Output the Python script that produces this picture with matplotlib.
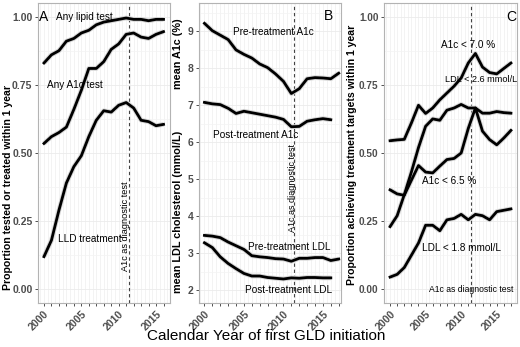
import numpy as np
import matplotlib
matplotlib.use("Agg")
import matplotlib.pyplot as plt

plt.rcParams.update({"font.family": ["Liberation Sans", "DejaVu Sans"]})

# ---- data ----
yrs16 = np.arange(2000, 2017)
yrs17 = np.arange(2000, 2018)

# panel A: proportion tested / treated within 1 year
any_lipid = [0.83, 0.86, 0.875, 0.91, 0.92, 0.94, 0.95, 0.97, 0.98, 0.985, 0.99,
             0.995, 0.99, 0.99, 0.985, 0.99, 0.99]
any_a1c = [0.535, 0.56, 0.575, 0.595, 0.66, 0.73, 0.81, 0.81, 0.835, 0.88, 0.90,
           0.935, 0.94, 0.925, 0.92, 0.935, 0.945]
lld_treat = [0.12, 0.18, 0.29, 0.39, 0.45, 0.49, 0.56, 0.62, 0.655, 0.65, 0.675,
             0.685, 0.665, 0.62, 0.615, 0.60, 0.605]

# panel B: mean A1c / LDL
pre_a1c = [9.22, 9.02, 8.9, 8.78, 8.5, 8.38, 8.28, 8.12, 8.02, 7.85, 7.65,
           7.32, 7.45, 7.72, 7.75, 7.74, 7.72, 7.87]
post_a1c = [7.08, 7.04, 7.02, 6.92, 6.78, 6.84, 6.8, 6.76, 6.72, 6.68, 6.62,
            6.42, 6.43, 6.57, 6.61, 6.64, 6.61]
pre_ldl = [3.48, 3.46, 3.42, 3.3, 3.2, 3.1, 2.93, 2.9, 2.88, 2.85, 2.84,
           2.78, 2.86, 2.86, 2.88, 2.88, 2.8, 2.84]
post_ldl = [3.28, 3.15, 2.9, 2.72, 2.58, 2.45, 2.38, 2.38, 2.34, 2.32, 2.3,
            2.33, 2.32, 2.34, 2.34, 2.33, 2.33]

# panel C: proportion achieving targets
a1c_70 = [0.545, 0.548, 0.55, 0.61, 0.675, 0.645, 0.665, 0.695, 0.72, 0.745, 0.775,
          0.83, 0.865, 0.815, 0.795, 0.79, 0.81, 0.83]
ldl_26 = [0.23, 0.27, 0.347, 0.43, 0.52, 0.598, 0.625, 0.62, 0.657, 0.665, 0.678,
          0.665, 0.665, 0.646, 0.646, 0.652, 0.648, 0.646]
a1c_65 = [0.365, 0.35, 0.345, 0.40, 0.454, 0.43, 0.427, 0.452, 0.476, 0.48, 0.5,
          0.59, 0.665, 0.58, 0.549, 0.53, 0.555, 0.583]
ldl_18 = [0.045, 0.055, 0.08, 0.125, 0.17, 0.235, 0.235, 0.215, 0.255, 0.26, 0.275,
          0.255, 0.275, 0.27, 0.255, 0.285, 0.29, 0.295]

DIAG_YEAR = 2011.4
TICK_COL = "#4D4D4D"

fig = plt.figure(figsize=(5.2, 3.47), dpi=100)
axA = fig.add_axes([38/520, 1-303/347, 131.5/520, 300/347])
axB = fig.add_axes([199.3/520, 1-303/347, 141.4/520, 300/347])
axC = fig.add_axes([384/520, 1-303/347, 133/520, 300/347])


def style(ax, xlim, ylim, yticks, yfmt, yminor, fs):
    ax.set_xlim(*xlim); ax.set_ylim(*ylim)
    for x in np.arange(1999.5, 2018.0, 0.5):
        ax.axvline(x, color="#EEEEEE", lw=0.5, zorder=0)
    for y in yminor:
        ax.axhline(y, color="#F3F3F3", lw=0.5, zorder=0)
    for y in yticks:
        ax.axhline(y, color="#EBEBEB", lw=0.6, zorder=0)
    ax.set_xticks(np.arange(2000, int(xlim[1]) + 1))
    ax.set_xticklabels([str(y) if y % 5 == 0 else "" for y in range(2000, int(xlim[1]) + 1)],
                       rotation=45, ha="right", va="top", rotation_mode="anchor",
                       fontsize=7.6, fontweight="bold", color=TICK_COL)
    ax.set_yticks(yticks)
    ax.set_yticklabels([yfmt.format(v) for v in yticks], fontsize=fs,
                       fontweight="bold", color=TICK_COL)
    ax.tick_params(length=2.5, width=0.6, color="#333333", pad=1.5)
    for s in ax.spines.values():
        s.set_color("#B3B3B3"); s.set_linewidth(0.8)
    ax.axvline(DIAG_YEAR, color="#444444", lw=0.8, ls=(0, (3, 2.5)), zorder=2)


def curve(ax, x, y):
    ax.plot(x, y, color="#D6D6D6", lw=3.4, solid_capstyle="butt", zorder=3)
    ax.plot(x, y, color="black", lw=2.0, zorder=4)


# ---- A ----
style(axA, (1999.2, 2016.8), (-0.05, 1.05), [0, 0.25, 0.5, 0.75, 1.0], "{:.2f}",
      np.arange(0.125, 1.0, 0.25), 7.5)
curve(axA, yrs16, any_lipid)
curve(axA, yrs16, any_a1c)
curve(axA, yrs16, lld_treat)
axA.text(1999.35, 1.0, "A", fontsize=10, ha="left", va="center")
axA.text(2005.45, 1.0, "Any lipid test", fontsize=7.2, ha="center", va="center")
axA.text(2004.1, 0.748, "Any A1c test", fontsize=7.2, ha="center", va="center")
axA.text(2006.1, 0.183, "LLD treatment", fontsize=7.2, ha="center", va="center")
axA.text(2010.9, 0.23, "A1c as diagnostic test", fontsize=6.6, rotation=90,
         ha="center", va="center")
fig.text(8/520, 1-187/347, "Proportion tested or treated within 1 year", fontsize=7.6,
         fontweight="bold", rotation=90, ha="center", va="center")

# ---- B ----
style(axB, (1999.35, 2017.25), (1.65, 9.77), [2, 3, 4, 5, 6, 7, 8, 9], "{:d}",
      np.arange(2.5, 9.6, 1.0), 7.5)
curve(axB, yrs17, pre_a1c)
curve(axB, yrs16, post_a1c)
curve(axB, yrs17, pre_ldl)
curve(axB, yrs16, post_ldl)
axB.text(2015.7, 9.41, "B", fontsize=10, ha="center", va="center")
axB.text(2008.7, 8.98, "Pre-treatment A1c", fontsize=7.2, ha="center", va="center")
axB.text(2006.45, 6.2, "Post-treatment A1c", fontsize=7.2, ha="center", va="center")
axB.text(2010.8, 3.17, "Pre-treatment LDL", fontsize=7.2, ha="center", va="center")
axB.text(2010.7, 2.0, "Post-treatment LDL", fontsize=7.2, ha="center", va="center")
axB.text(2011.1, 4.76, "A1c as diagnostic test", fontsize=6.5, rotation=90,
         ha="center", va="center")
fig.text(178/520, 1-54/347, "mean A1c (%)", fontsize=7.8, fontweight="bold",
         rotation=90, ha="center", va="center")
fig.text(178/520, 1-212/347, "mean LDL cholesterol (mmol/L)", fontsize=7.8,
         fontweight="bold", rotation=90, ha="center", va="center")

# ---- C ----
style(axC, (1999.15, 2017.85), (-0.05, 1.05), [0, 0.25, 0.5, 0.75, 1.0], "{:.2f}",
      np.arange(0.125, 1.0, 0.25), 7.2)
curve(axC, yrs17, a1c_70)
curve(axC, yrs17, ldl_26)
curve(axC, yrs17, a1c_65)
curve(axC, yrs17, ldl_18)
axC.text(2017.0, 1.0, "C", fontsize=10, ha="center", va="center")
axC.text(2010.96, 0.897, "A1c < 7.0 %", fontsize=7.2, ha="center", va="center")
axC.text(2012.85, 0.77, "LDL < 2.6 mmol/L", fontsize=6.6, ha="center", va="center")
axC.text(2008.36, 0.397, "A1c < 6.5 %", fontsize=7.2, ha="center", va="center")
axC.text(2009.98, 0.153, "LDL < 1.8 mmol/L", fontsize=7.2, ha="center", va="center")
axC.text(2011.46, 0.0, "A1c as diagnostic test", fontsize=6.2, ha="center", va="center")
fig.text(352/520, 1-155/347, "Proportion achieving treatment targets within 1 year",
         fontsize=7.6, fontweight="bold", rotation=90, ha="center", va="center")

fig.text(266/520, 1-336/347, "Calendar Year of first GLD initiation", fontsize=11,
         ha="center", va="center")

fig.savefig("out.png", dpi=100, facecolor="white")
